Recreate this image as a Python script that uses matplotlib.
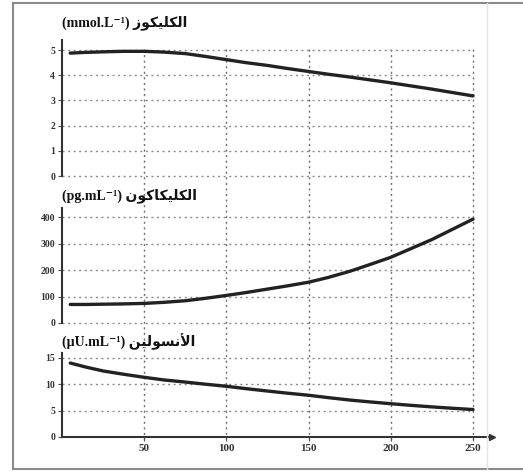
import numpy as np
import matplotlib
matplotlib.use("Agg")
import matplotlib.pyplot as plt
from matplotlib.lines import Line2D

# temps (min)
t = [5, 15, 25, 37, 50, 62, 75, 87, 100, 112, 125, 137, 150, 162, 175, 187,
     200, 212, 225, 237, 250]
glucose = [4.88, 4.91, 4.93, 4.95, 4.95, 4.92, 4.86, 4.75, 4.62, 4.50, 4.39,
           4.27, 4.15, 4.04, 3.93, 3.82, 3.70, 3.58, 3.45, 3.32, 3.18]
glucagon = [70, 70, 71, 72, 74, 78, 84, 93, 104, 115, 128, 140, 154, 172,
            195, 220, 248, 280, 315, 352, 392]
insulin = [14.0, 13.2, 12.5, 11.9, 11.3, 10.8, 10.4, 10.0, 9.6, 9.15, 8.7,
           8.3, 7.9, 7.45, 7.0, 6.65, 6.3, 6.0, 5.7, 5.45, 5.2]

xticks = [50, 100, 150, 200, 250]
yt1 = [0, 1, 2, 3, 4, 5]
yt2 = [0, 100, 200, 300, 400]
yt3 = [0, 5, 10, 15]

# arabic written in visual order with presentation forms (no shaping in mpl)
ar_glu = "\uFEAF\uFEEE\uFEDC\uFEF4\uFEE0\uFEDC\uFEDF\uFE8D"
ar_gln = "\uFEE5\uFEEE\uFEDB\uFE8E\uFEDC\uFEF4\uFEE0\uFEDC\uFEDF\uFE8D"
ar_ins = "\uFEE6\uFEF4\uFEDF\uFEEE\uFEB4\uFEE7\uFEF7\uFE8D"
titles = ["(mmol.L\u207B\u00B9) " + ar_glu,
          "(pg.mL\u207B\u00B9) " + ar_gln,
          "(\u00B5U.mL\u207B\u00B9) " + ar_ins]

W, H = 523, 472
fig = plt.figure(figsize=(W/100, H/100), dpi=100)

x0, x250, xr = 62, 473, 492
ppu = (x250 - x0) / 250.0
xmax = (xr - x0) / ppu

def box(top, bottom):
    return [x0/W, 1 - bottom/H, (xr - x0)/W, (bottom - top)/H]

# vertical grid running through all panels
bg = fig.add_axes(box(48, 440))
bg.set_xlim(0, xmax)
bg.set_ylim(0, 1)
bg.axis("off")
for xv in xticks:
    bg.axvline(xv, color="#6f6f6f", ls=(0, (1.5, 2.5)), lw=1)

panels = [
    (40, 176, 5.4, glucose, yt1, titles[0], 23),
    (208, 323, 434, glucagon, yt2, titles[1], 196),
    (353, 437, 15.9, insulin, yt3, titles[2], 342),
]

for i, (top, bot, ymax, ys, yt, tt, ty) in enumerate(panels):
    ax = fig.add_axes(box(top, bot))
    ax.patch.set_alpha(0)
    ax.set_xlim(0, xmax)
    ax.set_ylim(0, ymax)
    for s in ["top", "right"]:
        ax.spines[s].set_visible(False)
    ax.spines["left"].set_color("#333333")
    ax.spines["left"].set_linewidth(1.5)
    last = i == 2
    if last:
        ax.spines["bottom"].set_color("#333333")
        ax.spines["bottom"].set_linewidth(1.5)
        ax.plot([xmax], [0], marker=">", color="#333333", ms=4,
                clip_on=False)
        ax.set_xticks(xticks)
        ax.set_xticklabels([str(v) for v in xticks], fontsize=8,
                           family="Liberation Serif", fontweight="bold",
                           color="#333333")
        ax.tick_params(axis="x", length=3, color="#555555", pad=2)
    else:
        ax.spines["bottom"].set_visible(False)
        ax.set_xticks([])
    ax.set_yticks(yt)
    ax.set_yticklabels([str(v) for v in yt], fontsize=7,
                       family="Liberation Serif", fontweight="bold",
                       color="#333333")
    ax.tick_params(axis="y", length=3, color="#555555", pad=2)
    for yv in yt:
        if last and yv == 0:
            continue
        ax.hlines(yv, 0, 250, color="#8c8c8c", ls=(0, (1.5, 2.5)), lw=1,
                  clip_on=False)
    ax.plot(t, ys, color="#222222", lw=2.4, solid_capstyle="round")
    fig.text(x0/W, 1 - ty/H, tt, fontsize=10, fontweight="bold",
             family=["Liberation Serif", "DejaVu Sans"], ha="left",
             va="center", color="#111111")

# frame around the document picture
fc = "#8a8a8a"
fig.add_artist(Line2D([13/W, 13/W], [1 - 3/H, 1 - 469/H], color=fc, lw=1.5))
fig.add_artist(Line2D([13/W, 1], [1 - 3/H, 1 - 3/H], color=fc, lw=1.5))
fig.add_artist(Line2D([13/W, 1], [1 - 469/H, 1 - 469/H], color=fc, lw=1.5))
fig.add_artist(Line2D([487/W, 487/W], [1 - 3/H, 1 - 469/H], color="#e4e4e4", lw=1))

fig.savefig("out.png", dpi=100)
